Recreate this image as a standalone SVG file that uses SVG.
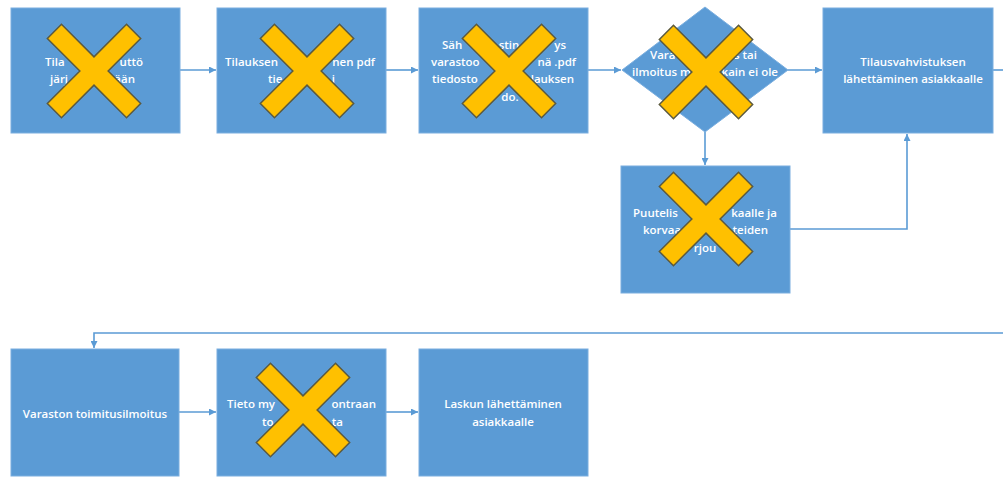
<svg xmlns="http://www.w3.org/2000/svg" width="1003" height="477" viewBox="0 0 1003 477">
<style>
.box{fill:#5b9bd5;stroke:#7aaedf;stroke-width:1}
.t{font-family:"Open Sans","Liberation Sans",sans-serif;font-size:11.5px;font-weight:600;fill:#ffffff}
.m{text-anchor:middle}.e{text-anchor:end}
.c{fill:none;stroke:#5b9bd5;stroke-width:1.6}
.x{fill:#ffc000;stroke:#5c5a3e;stroke-width:1.5;stroke-linejoin:miter}
</style>
<defs>
<marker id="ah" viewBox="0 0 10 10" refX="10" refY="5" markerWidth="7" markerHeight="7" markerUnits="userSpaceOnUse" orient="auto">
<path d="M0,0 L10,5 L0,10 z" fill="#5b9bd5"/>
</marker>
<polygon id="xm" points="-10,-56 10,-56 10,-10 56,-10 56,10 10,10 10,56 -10,56 -10,10 -56,10 -56,-10 -10,-10"/>
</defs>
<rect width="1003" height="477" fill="#ffffff"/>
<g id="connectors">
<line class="c" x1="180" y1="70" x2="216" y2="70" marker-end="url(#ah)"/>
<line class="c" x1="386" y1="70" x2="418" y2="70" marker-end="url(#ah)"/>
<line class="c" x1="588" y1="70" x2="621" y2="70" marker-end="url(#ah)"/>
<line class="c" x1="788" y1="70" x2="822" y2="70" marker-end="url(#ah)"/>
<line class="c" x1="993" y1="70" x2="1003" y2="70"/>
<line class="c" x1="705" y1="132" x2="705" y2="165" marker-end="url(#ah)"/>
<polyline class="c" points="790,229 907,229 907,134" marker-end="url(#ah)"/>
<polyline class="c" points="1003,333 94,333 94,348" marker-end="url(#ah)"/>
<line class="c" x1="179" y1="412" x2="216" y2="412" marker-end="url(#ah)"/>
<line class="c" x1="386" y1="412" x2="418" y2="412" marker-end="url(#ah)"/>
</g>
<g id="n1">
<rect class="box" x="11" y="8" width="169" height="125"/>
<text class="t" x="45" y="66">Tila</text><text class="t e" x="143" y="66">uttö</text>
<text class="t" x="50" y="83">järj</text><text class="t e" x="135" y="83">ään</text>
<use href="#xm" class="x" transform="translate(94,71) rotate(45)"/>
</g>
<g id="n2">
<rect class="box" x="217" y="8" width="169" height="125"/>
<text class="t" x="225" y="66">Tilauksen</text><text class="t e" x="375" y="66">nen pdf</text>
<text class="t" x="268" y="83">tie</text><text class="t e" x="335" y="83">i</text>
<use href="#xm" class="x" transform="translate(307,71) rotate(45)"/>
</g>
<g id="n3">
<rect class="box" x="419" y="8" width="169" height="125"/>
<text class="t" x="442" y="49">Säh</text><text class="t m" x="509" y="49">stin</text><text class="t e" x="566" y="49">ys</text>
<text class="t" x="431" y="66">varastoo</text><text class="t e" x="576" y="66">nä .pdf</text>
<text class="t" x="432" y="83">tiedosto</text><text class="t e" x="574" y="83">lauksen</text>
<text class="t m" x="510" y="101">do.</text>
<use href="#xm" class="x" transform="translate(509,71) rotate(45)"/>
</g>
<g id="n4">
<polygon class="box" points="705,7 788,70 705,132 622,70"/>
<text class="t" x="650" y="59">Vara</text><text class="t e" x="757" y="59">s tai</text>
<text class="t" x="632" y="76">ilmoitus m</text><text class="t e" x="778" y="76">kain ei ole</text>
<use href="#xm" class="x" transform="translate(706,72) rotate(45)"/>
</g>
<g id="n5">
<rect class="box" x="823" y="8" width="170" height="125"/>
<text class="t m" x="913" y="66">Tilausvahvistuksen</text>
<text class="t m" x="913" y="83">lähettäminen asiakkaalle</text>
</g>
<g id="n6">
<rect class="box" x="621" y="166" width="169" height="127"/>
<text class="t" x="633" y="217">Puutelis</text><text class="t e" x="777" y="217">kaalle ja</text>
<text class="t" x="643" y="234">korvaa</text><text class="t e" x="768" y="234">teiden</text>
<text class="t m" x="705" y="252">rjou</text>
<use href="#xm" class="x" transform="translate(706,219) rotate(45)"/>
</g>
<g id="n7">
<rect class="box" x="11" y="349" width="168" height="127"/>
<text class="t m" x="95" y="418">Varaston toimitusilmoitus</text>
</g>
<g id="n8">
<rect class="box" x="217" y="349" width="169" height="127"/>
<text class="t" x="227" y="408">Tieto my</text><text class="t e" x="376" y="408">ontraan</text>
<text class="t" x="262" y="426">to</text><text class="t e" x="343" y="426">ta</text>
<use href="#xm" class="x" transform="translate(303,410) rotate(45)"/>
</g>
<g id="n9">
<rect class="box" x="419" y="349" width="169" height="127"/>
<text class="t m" x="503" y="408">Laskun lähettäminen</text>
<text class="t m" x="503" y="426">asiakkaalle</text>
</g>
</svg>
